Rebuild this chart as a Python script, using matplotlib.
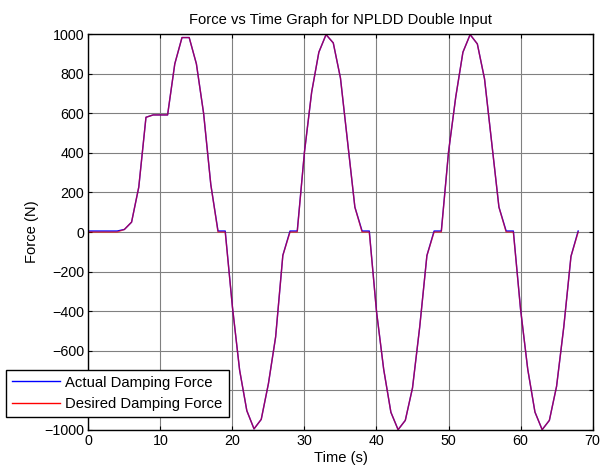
import matplotlib.pyplot as plt

plt.rcParams["font.family"] = ["Liberation Sans", "DejaVu Sans"]

TITLE = "Force vs Time Graph for NPLDD Double Input"

# sampled once per second, 0..68 s
time_s = list(range(0, 69))

desired_force = [
    0, 0, 0, 0, 0, 13, 50, 227, 580, 592,
    592, 592, 850, 983, 983, 850, 600, 240, 0, 0,
    -378, -698, -903, -995, -947, -766, -530, -118, 0, 0,
    404, 707, 909, 998, 956, 778, 452, 126, 0, 0,
    -400, -694, -911, -999, -952, -788, -480, -119, 0, 0,
    404, 682, 909, 998, 951, 774, 450, 126, 0, 0,
    -390, -694, -910, -999, -952, -780, -480, -123, 0,
]

actual_force = [
    5, 5, 5, 5, 5, 13, 50, 227, 580, 592,
    592, 592, 850, 983, 983, 850, 600, 240, 5, 5,
    -378, -698, -903, -995, -947, -766, -530, -118, 5, 5,
    404, 707, 909, 998, 956, 778, 452, 126, 5, 5,
    -400, -694, -911, -999, -952, -788, -480, -119, 5, 5,
    404, 682, 909, 998, 951, 774, 450, 126, 5, 5,
    -390, -694, -910, -999, -952, -780, -480, -123, 5,
]

x_ticks = list(range(0, 71, 10))
y_ticks = list(range(-1000, 1001, 200))


def main():
    fig = plt.figure(figsize=(6.01, 4.75), dpi=100)
    ax = fig.add_axes([0.147, 0.095, 0.839, 0.833])

    ax.plot(time_s, actual_force, color="blue", lw=1.0, label="Actual Damping Force")
    ax.plot(time_s, desired_force, color="red", lw=1.0, alpha=0.6,
            label="Desired Damping Force")

    ax.set_xlim(0, 70)
    ax.set_ylim(-1000, 1000)
    ax.set_xticks(x_ticks)
    ax.set_yticks(y_ticks)
    ax.tick_params(direction="in", top=True, right=True, labelsize=10.3, length=3,
                   width=0.8, colors="black", pad=3)
    ax.grid(True, color="0.5", lw=0.8)
    ax.set_axisbelow(True)
    for sp in ax.spines.values():
        sp.set_linewidth(1.0)

    ax.set_title(TITLE, fontsize=10.6, pad=7)
    ax.set_xlabel("Time (s)", fontsize=10.6, labelpad=2)
    ax.set_ylabel("Force (N)", fontsize=10.6, labelpad=4)

    leg = ax.legend(loc="lower left", bbox_to_anchor=(6 / 601, 1 - 417 / 475),
                    bbox_transform=fig.transFigure, fontsize=10.7, fancybox=False,
                    framealpha=1, edgecolor="black", handlelength=3.2,
                    borderpad=0.4, labelspacing=0.5, handletextpad=0.4,
                    borderaxespad=0)
    leg.get_frame().set_linewidth(1.0)
    for line in leg.get_lines():
        line.set_alpha(1.0)

    fig.savefig("out.png", dpi=100)
    plt.close(fig)


if __name__ == "__main__":
    main()
